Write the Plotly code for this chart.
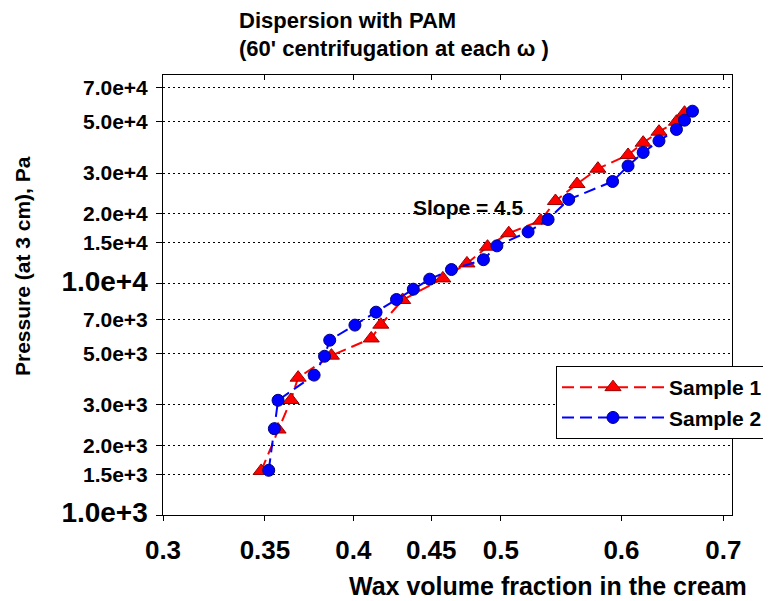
import plotly.graph_objects as go
import math

# ---- data ----
s1_x = [0.348, 0.357, 0.364, 0.368, 0.387, 0.411, 0.417, 0.431, 0.458, 0.475, 0.490,
        0.506, 0.531, 0.543, 0.561, 0.579, 0.606, 0.620, 0.635, 0.652, 0.660]
s1_y = [1550, 2340, 3140, 3920, 4880, 5790, 6640, 8490, 10520, 12210, 14420,
        16490, 18680, 22720, 26900, 31330, 35910, 40570, 45270, 50000, 54670]

s2_x = [0.352, 0.355, 0.357, 0.377, 0.383, 0.386, 0.401, 0.414, 0.427, 0.438, 0.449, 0.464,
        0.487, 0.497, 0.521, 0.537, 0.554, 0.592, 0.606, 0.620, 0.635, 0.652, 0.660, 0.668]
s2_y = [1560, 2360, 3130, 4020, 4850, 5690, 6610, 7520, 8530, 9450, 10440, 11490,
        12670, 14540, 16710, 18900, 23070, 27580, 32210, 36810, 41300, 46270, 50750, 55500]

x_ticks = [0.3, 0.35, 0.4, 0.45, 0.5, 0.6, 0.7]
x_ticktext = ["0.3", "0.35", "0.4", "0.45", "0.5", "0.6", "0.7"]
y_ticks = [1000, 1500, 2000, 3000, 5000, 7000, 10000, 15000, 20000, 30000, 50000, 70000]
y_ticktext = ["1.0e+3", "1.5e+3", "2.0e+3", "3.0e+3", "5.0e+3", "7.0e+3",
              "1.0e+4", "1.5e+4", "2.0e+4", "3.0e+4", "5.0e+4", "7.0e+4"]
major_labels = {"1.0e+3", "1.0e+4"}

title_lines = ["Dispersion with PAM", "(60' centrifugation at each ω )"]

FONT = "Liberation Sans, Arial, sans-serif"

fig = go.Figure()
fig.add_trace(go.Scatter(
    x=s1_x, y=s1_y, name="Sample 1", mode="lines+markers",
    line=dict(color="#FF0000", width=2, dash="12px,6px"),
    marker=dict(symbol="triangle-up", size=14, color="#FF0000",
                line=dict(color="#990000", width=1)),
))
fig.add_trace(go.Scatter(
    x=s2_x, y=s2_y, name="Sample 2", mode="lines+markers",
    line=dict(color="#0000FF", width=2, dash="12px,6px"),
    marker=dict(symbol="circle", size=12, color="#0000FF",
                line=dict(color="#000080", width=1)),
))

# invisible trace on top axis for inside ticks
fig.add_trace(go.Scatter(x=[x_ticks[0]], y=[y_ticks[0]], xaxis="x2", mode="markers",
                         marker=dict(opacity=0), showlegend=False, hoverinfo="skip"))

# page body has an 8px margin: figure is 763x593, plot area lands at 163..732 x 75..515
PW, PH = 569, 440
xr = [math.log10(0.3), math.log10(0.3) + PW / 1523]
yr = [3, 3 + PH / 231.5]

ytt = [f"<span style='font-size:28px'>{t}</span>" if t in major_labels else t for t in y_ticktext]

def px(x):  # page x pixel -> paper coordinate
    return (x - 163) / PW

def py(y):  # page y pixel -> paper coordinate
    return (515 - y) / PH

fig.update_layout(
    template="none",
    width=763, height=593,
    margin=dict(l=155, r=39, t=67, b=86, autoexpand=False),
    paper_bgcolor="white", plot_bgcolor="white",
    font=dict(family=FONT, color="black"),
    xaxis=dict(type="log", range=xr, tickvals=x_ticks, ticktext=x_ticktext,
               ticks="outside", ticklen=5, tickcolor="black", automargin=False,
               showline=True, linecolor="black", linewidth=1, mirror=True,
               showgrid=False, zeroline=False,
               tickfont=dict(family=FONT, size=26, weight="bold"),
               ticklabelstandoff=7),
    xaxis2=dict(type="log", range=xr, overlaying="x", side="top", tickvals=x_ticks,
                ticks="inside", ticklen=5, tickcolor="black", showticklabels=False,
                automargin=False,
                showline=False, showgrid=False, zeroline=False),
    yaxis=dict(type="log", range=yr, tickvals=y_ticks, ticktext=ytt,
               ticks="outside", ticklen=6, tickcolor="black", automargin=False,
               showline=True, linecolor="black", linewidth=1, mirror=True,
               showgrid=True, gridcolor="black", gridwidth=1, griddash="2px,3px",
               zeroline=False,
               tickfont=dict(family=FONT, size=21, weight="bold"),
               ticklabelstandoff=4),
    legend=dict(x=px(768), xanchor="right", y=py(366), yanchor="top",
                bgcolor="white", bordercolor="black", borderwidth=1,
                font=dict(family=FONT, size=21, weight="bold"),
                itemwidth=102, tracegroupgap=0),
    annotations=[
        dict(text=title_lines[0], xref="paper", yref="paper", x=px(237), y=py(21),
             xanchor="left", yanchor="middle", showarrow=False,
             font=dict(family=FONT, size=22, weight="bold")),
        dict(text=title_lines[1], xref="paper", yref="paper", x=px(237), y=py(48),
             xanchor="left", yanchor="middle", showarrow=False,
             font=dict(family=FONT, size=22, weight="bold")),
        dict(text="Slope = 4.5", xref="paper", yref="paper",
             x=px(468), y=py(194), showarrow=False,
             font=dict(family=FONT, size=21, weight="bold")),
        dict(text="Wax volume fraction in the cream", xref="paper", yref="paper",
             x=px(548), y=py(586), showarrow=False,
             xanchor="center", yanchor="middle",
             font=dict(family=FONT, size=25, weight="bold")),
        dict(text="Pressure (at 3 cm), Pa", xref="paper", yref="paper",
             x=px(22), y=py(266), showarrow=False, textangle=-90,
             xanchor="center", yanchor="middle",
             font=dict(family=FONT, size=21, weight="bold")),
    ],
)

fig.write_html("out.html")
